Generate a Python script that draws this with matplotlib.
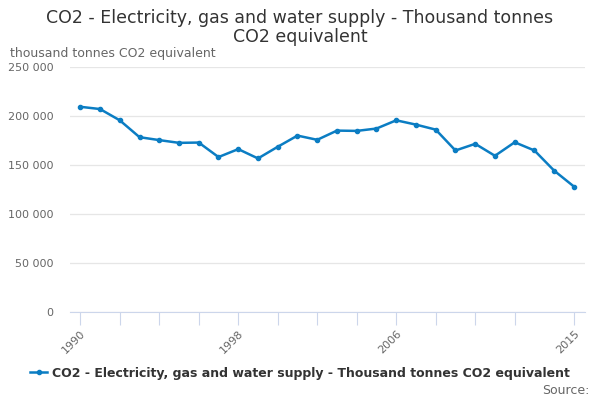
import matplotlib
matplotlib.use("Agg")
import matplotlib.pyplot as plt
import numpy as np

years = list(range(1990, 2016))
co2 = [209400, 207100, 195600, 178400, 175400, 172600, 172900, 158100,
       166200, 156700, 168600, 180000, 175700, 185100, 184800, 187200,
       195600, 191200, 186100, 164800, 171600, 159400, 173200, 164800,
       144200, 128000]
series_name = "CO2 - Electricity, gas and water supply - Thousand tonnes CO2 equivalent"
title = "CO2 - Electricity, gas and water supply - Thousand tonnes\nCO2 equivalent"
tick_years = list(range(1990, 2013, 2)) + [2015]
label_years = [1990, 1998, 2006, 2015]

line_col = "#0b7dc3"
grey = "#666666"

fig = plt.figure(figsize=(6, 4), dpi=100)
ax = fig.add_axes([0.117, 0.22, 0.858, 0.6125])

ax.plot(years, co2, color=line_col, lw=1.8, marker="o", ms=3, label=series_name)

ax.set_xlim(1989.49, 2015.56)
ax.set_ylim(0, 250000)
ax.set_yticks(np.arange(0, 250001, 50000))
ax.set_yticklabels(["0" if v == 0 else f"{v:,}".replace(",", " ") for v in range(0, 250001, 50000)],
                   color=grey, fontsize=8)
ax.set_xticks(tick_years)
ax.set_xticklabels([str(y) if y in label_years else "" for y in tick_years],
                   rotation=45, ha="right", rotation_mode="anchor", color=grey, fontsize=8)
ax.tick_params(axis="x", length=9, width=0.8, color="#ccd6eb", direction="out", pad=3)
ax.tick_params(axis="y", length=0, pad=12)

ax.grid(axis="y", color="#e6e6e6", lw=0.9)
ax.set_axisbelow(True)
for s in ["top", "right", "left"]:
    ax.spines[s].set_visible(False)
ax.spines["bottom"].set_color("#ccd6eb")

fig.text(0.5, 0.978, title, ha="center", va="top", fontsize=12.5, color="#333333",
         linespacing=1.05)
fig.text(0.017, 0.866, "thousand tonnes CO2 equivalent", ha="left", va="center",
         fontsize=9, color=grey)

leg = fig.legend(loc="center", bbox_to_anchor=(0.5, 0.067), frameon=False,
                 prop={"weight": "bold", "size": 9}, handlelength=1.4,
                 handletextpad=0.4)
for t in leg.get_texts():
    t.set_color("#333333")

fig.text(0.982, 0.025, "Source:", ha="right", va="center", fontsize=9, color=grey)

fig.savefig("out.png", dpi=100)
